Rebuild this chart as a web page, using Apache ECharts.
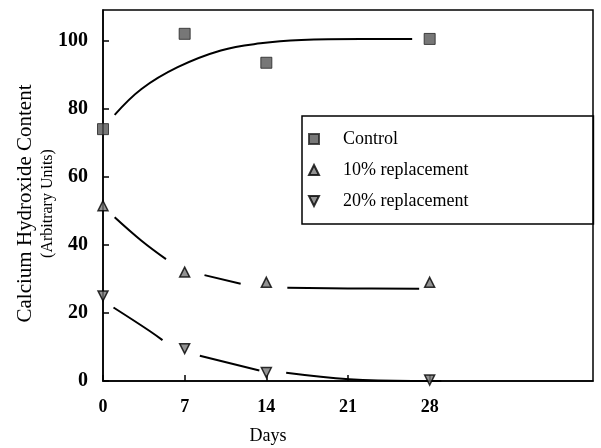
<!DOCTYPE html>
<html>
<head>
<meta charset="utf-8">
<script src="https://cdn.jsdelivr.net/npm/echarts@6/dist/echarts.min.js"></script>
<style>
  html, body { margin: 0; padding: 0; background: #fff; }
  #chart { width: 601px; height: 448px; }
</style>
</head>
<body>
<div id="chart"></div>
<script>
// measured points
const days = [0, 7, 14, 28]
const controlVals = [74, 102, 93.5, 100.5]
const rep10Vals = [51.5, 32, 29, 29]
const rep20Vals = [25, 9.5, 2.5, 0.3]

// fitted curves (null = gap around a marker)
const controlFitDays = [1, 3.3, 6.4, 10.1, 13.5, 17, 22.1, 26.5]
const controlFitVals = [78.2, 85.8, 92.2, 97.1, 99.2, 100.2, 100.5, 100.5]
const rep10FitDays = [1, 3.3, 5.4, null, 8.7, 11.8, null, 15.8, 21, 27.1]
const rep10FitVals = [48.1, 41.2, 35.8, null, 31.1, 28.6, null, 27.4, 27.2, 27.1]
const rep20FitDays = [0.9, 4, 5.1, null, 8.3, 13.4, null, 15.7, 21.1, 26.5, 29]
const rep20FitVals = [21.6, 14.7, 12, null, 7.4, 3.1, null, 2.4, 0.5, 0, 0]

const xTicks = [0, 7, 14, 21, 28]
const yTicks = [0, 20, 40, 60, 80, 100]
const names = ["Control", "10% replacement", "20% replacement"]

const font = "Liberation Serif"
const downTri = "path://M0,0 L10,0 L5,10 Z"

function pairs(xs, ys) {
  return xs.map((x, i) => (x === null ? ["-", "-"] : [x, ys[i]]))
}

function fitLine(xs, ys) {
  return {
    type: "line",
    data: pairs(xs, ys),
    smooth: 0.4,
    showSymbol: false,
    connectNulls: false,
    silent: true,
    lineStyle: { color: "#000", width: 2 },
    z: 2
  }
}

const chart = echarts.init(document.getElementById("chart"))
let option = {
  animation: false,
  backgroundColor: "#fff",
  grid: {
    left: 103,
    right: 8,
    top: 10,
    bottom: 67,
    outerBoundsMode: "none",
    show: true,
    borderColor: "#000",
    borderWidth: 1.5
  },
  legend: {
    orient: "vertical",
    left: 302,
    top: 116,
    itemWidth: 10,
    itemHeight: 10,
    itemGap: 13,
    padding: [14, 125, 14, 6],
    borderColor: "#000",
    borderWidth: 1.5,
    textStyle: {
      fontFamily: font,
      fontSize: 18,
      color: "#000",
      padding: [0, 0, 0, 19]
    },
    data: [
      { name: names[0], icon: "rect" },
      { name: names[1], icon: "triangle" },
      { name: names[2], icon: downTri }
    ]
  },
  xAxis: {
    type: "value",
    min: 0,
    max: 42,
    interval: 7,
    name: "Days",
    nameLocation: "middle",
    nameGap: 46,
    nameMoveOverlap: false,
    nameTextStyle: {
      fontFamily: font,
      fontSize: 18,
      color: "#000",
      padding: [0, 160, 0, 0]
    },
    axisLine: { lineStyle: { color: "#000", width: 1.5 } },
    axisTick: { inside: true, length: 6, customValues: xTicks, lineStyle: { color: "#000", width: 1.5 } },
    axisLabel: {
      customValues: xTicks,
      margin: 17,
      fontFamily: font,
      fontSize: 18,
      fontWeight: "bold",
      color: "#000"
    },
    splitLine: { show: false }
  },
  yAxis: {
    type: "value",
    min: 0,
    max: 109,
    interval: 20,
    name: "{a|Calcium Hydroxide Content}\n{b|(Arbitrary Units)}",
    nameLocation: "middle",
    nameGap: 45,
    nameRotate: 90,
    nameMoveOverlap: false,
    nameTextStyle: {
      align: "center",
      padding: [0, 16, 0, 0],
      rich: {
        a: { fontFamily: font, fontSize: 21, color: "#000", lineHeight: 26 },
        b: { fontFamily: font, fontSize: 16, color: "#000", lineHeight: 20 }
      }
    },
    axisLine: { lineStyle: { color: "#000", width: 1.5 } },
    axisTick: { inside: true, length: 6, customValues: yTicks, lineStyle: { color: "#000", width: 1.5 } },
    axisLabel: {
      customValues: yTicks,
      margin: 15,
      fontFamily: font,
      fontSize: 20,
      fontWeight: "bold",
      color: "#000"
    },
    splitLine: { show: false }
  },
  series: [
    fitLine(controlFitDays, controlFitVals),
    fitLine(rep10FitDays, rep10FitVals),
    fitLine(rep20FitDays, rep20FitVals),
    {
      name: names[0],
      type: "scatter",
      data: pairs(days, controlVals),
      symbol: "rect",
      symbolSize: 11,
      itemStyle: { color: "#555", borderColor: "#222", borderWidth: 1 },
      z: 3
    },
    {
      name: names[1],
      type: "scatter",
      data: pairs(days, rep10Vals),
      symbol: "triangle",
      symbolSize: 10,
      itemStyle: { color: "#777", borderColor: "#000", borderWidth: 1.5 },
      z: 3
    },
    {
      name: names[2],
      type: "scatter",
      data: pairs(days, rep20Vals),
      symbol: downTri,
      symbolSize: 10,
      itemStyle: { color: "#777", borderColor: "#000", borderWidth: 1.5 },
      z: 3
    }
  ]
}
chart.setOption(option)
</script>
</body>
</html>
